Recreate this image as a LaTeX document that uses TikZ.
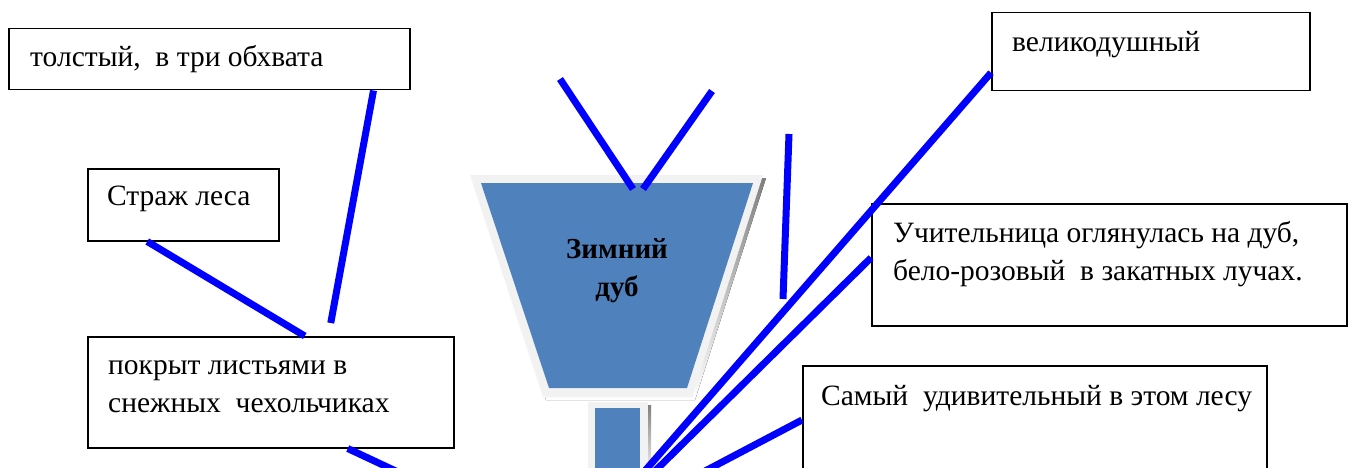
\documentclass[tikz,border=0pt]{standalone}
\usepackage{fontspec}
\setmainfont{Liberation Serif}
\usetikzlibrary{positioning}

\definecolor{oakblue}{HTML}{4F81BD}
\definecolor{rim}{HTML}{F2F2F2}
\definecolor{shade}{HTML}{95A0B0}

\tikzset{
  box/.style={draw, line width=1.5pt, anchor=north west, inner sep=0pt},
  txt/.style={anchor=base west, align=left, inner sep=0pt, font=\fontsize{29.5}{37.5}\selectfont},
  link/.style={draw=blue, line width=7pt}
}

\begin{document}
\begin{tikzpicture}[x=1pt,y=-1pt]
  \useasboundingbox (0,0) rectangle (1349,468);
  \clip (0,0) rectangle (1349,468);

  % funnel
  \fill[shade] (473,178) -- (766,178) -- (695,400) -- (546,400) -- cycle;
  \fill[rim] (470,175) -- (763,175) -- (692,397) -- (543,397) -- cycle;
  \fill[oakblue] (481,183) -- (753,183) -- (687,388) -- (549,388) -- cycle;
  \fill[shade] (591,405) rectangle (651,480);
  \fill[rim] (588,402) rectangle (648,480);
  \fill[oakblue] (595,408) rectangle (640,480);
  \node[align=center, inner sep=0pt, font=\fontsize{29}{38}\selectfont\bfseries] (oak) at (617,271) {Зимний\\дуб};
  \coordinate (top) at (638,189);

  % boxes
  \node[box, minimum width=401pt, minimum height=61pt] (girth) at (8,28) {};
  \node[txt] (girthtext) at (30,67) {толстый,\ \ в три обхвата};
  \node[box, minimum width=191pt, minimum height=72pt] (guard) at (87,168) {};
  \node[txt] (guardtext) at (107,205) {Страж леса};
  \node[box, minimum width=366pt, minimum height=111pt] (cover) at (87,336) {};
  \node[txt] (covertext) at (108,412) {покрыт листьями в\\снежных\ \ чехольчиках};
  \node[box, minimum width=318pt, minimum height=78pt] (great) at (991,12) {};
  \node[txt] (greattext) at (1012,52) {великодушный};
  \node[box, minimum width=475pt, minimum height=122pt] (teacher) at (871,203) {};
  \node[txt] (teachertext) at (893,280) {Учительница оглянулась на дуб,\\бело-розовый\ \ в закатных лучах.};
  \node[box, minimum width=464pt, minimum height=160pt] (wonder) at (802,365) {};
  \node[txt] (wondertext) at (821,405) {Самый\ \ удивительный в этом лесу};

  % free ends
  \coordinate (crownL) at (560,79);
  \coordinate (crownR) at (712,91);
  \coordinate (stickup) at (789,134);
  \coordinate (stickdown) at (783,299);
  \coordinate (root1) at (400,473);
  \coordinate (root2) at (637,480);
  \coordinate (root3) at (646,480);
  \coordinate (root4) at (688,480);

  % lines
  \draw[link] ([xshift=-37pt]girth.south east) -- ([xshift=60pt,yshift=13pt]cover.north);
  \draw[link] ([xshift=-36pt]guard.south) -- ([xshift=34pt]cover.north);
  \draw[link] ([xshift=77pt]cover.south) -- (root1);
  \draw[link] (crownL) -- ([xshift=-5pt]top);
  \draw[link] (crownR) -- ([xshift=5pt]top);
  \draw[link] (stickup) -- (stickdown);
  \draw[link] ([yshift=-21pt]great.west) -- (root2);
  \draw[link] ([yshift=7pt]teacher.west) -- (root3);
  \draw[link] (wonder.west |- 0,420) -- (root4);
\end{tikzpicture}
\end{document}
